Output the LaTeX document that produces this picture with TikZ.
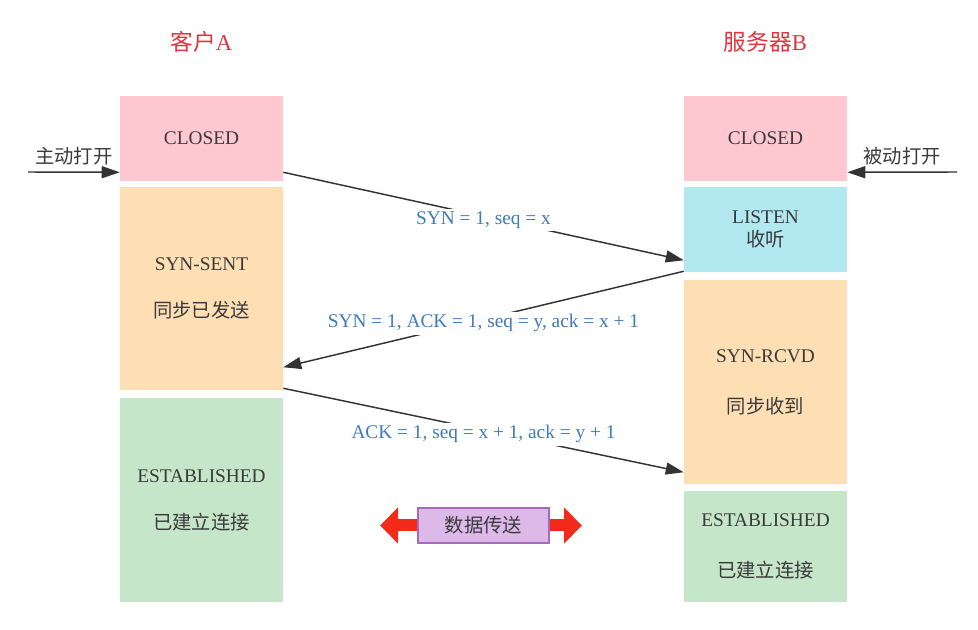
\documentclass[tikz,border=0pt]{standalone}
\usepackage{fontspec}
\setmainfont{Liberation Serif}
\newfontfamily\cjk{Noto Sans CJK SC}
\usetikzlibrary{arrows.meta}
\definecolor{closedpink}{HTML}{FFC8D1}
\definecolor{syncorange}{HTML}{FEDFB3}
\definecolor{listenblue}{HTML}{B2E8EF}
\definecolor{estgreen}{HTML}{C6E6CA}
\definecolor{datafill}{HTML}{DDB9E9}
\definecolor{dataline}{HTML}{A56BB8}
\definecolor{msgblue}{HTML}{3E7BBA}
\definecolor{titlered}{HTML}{E2333F}
\definecolor{stategray}{HTML}{3A3A3A}
\definecolor{lineblack}{HTML}{333333}
\definecolor{bigred}{HTML}{F42A1B}
\tikzset{
  statebox/.style={minimum width=122.25pt, inner sep=0pt, align=center, text=stategray, font=\fontsize{14.5pt}{17.4pt}\selectfont},
  msg/.style={draw=lineblack, line width=1.1pt, -{Triangle[length=13.5pt,width=9pt]}},
  msglabel/.style={midway, yshift=-3pt, fill=white, inner sep=2pt, text=msgblue, font=\fontsize{14.5pt}{17.4pt}\selectfont},
  openlabel/.style={midway, above=1pt, text=stategray, font=\fontsize{14.5pt}{17.4pt}\selectfont\cjk},
  sidetitle/.style={text=titlered, font=\fontsize{17pt}{20pt}\selectfont},
}
\begin{document}
\begin{tikzpicture}[x=0.75pt,y=-0.75pt]
\useasboundingbox (0,0) rectangle (978,630);
\node[sidetitle] (titleA) at (201.5,42) {{\cjk 客户}A};
\node[sidetitle] (titleB) at (765.5,42) {{\cjk 服务器}B};
\node[statebox, fill=closedpink, minimum height=63.75pt] (closedA) at (201.5,138.5) {CLOSED};
\node[statebox, fill=syncorange, minimum height=152.25pt] (synsent) at (201.5,288.5) {SYN-SENT\\[18pt]{\cjk 同步已发送}};
\node[statebox, fill=estgreen, minimum height=153pt] (estA) at (201.5,500) {ESTABLISHED\\[18pt]{\cjk 已建立连接}};
\node[statebox, fill=closedpink, minimum height=63.75pt] (closedB) at (765.5,138.5) {CLOSED};
\node[statebox, fill=listenblue, minimum height=63.75pt] (listen) at (765.5,229.5) {LISTEN\\{\cjk 收听}};
\node[statebox, fill=syncorange, minimum height=153pt] (synrcvd) at (765.5,382) {SYN-RCVD\\[21pt]{\cjk 同步收到}};
\node[statebox, fill=estgreen, minimum height=83.25pt] (estB) at (765.5,546.5) {ESTABLISHED\\[21pt]{\cjk 已建立连接}};
\coordinate (openA) at (28,172);
\coordinate (openB) at (957,172);
\draw[msg] (openA) -- ([yshift=6.75pt]closedA.south west) node[openlabel] {主动打开};
\draw[msg] (openB) -- ([yshift=6.75pt]closedB.south east) node[openlabel] {被动打开};
\draw[msg] ([yshift=6.75pt]closedA.south east) -- ([yshift=9pt]listen.south west) node[msglabel] {SYN = 1, seq = x};
\draw[msg] ([yshift=0.75pt]listen.south west) -- ([yshift=17.25pt]synsent.south east) node[msglabel] {SYN = 1, ACK = 1, seq = y, ack = x + 1};
\draw[msg] ([yshift=1.5pt]synsent.south east) -- ([yshift=9pt]synrcvd.south west) node[msglabel] {ACK = 1, seq = x + 1, ack = y + 1};
\coordinate (dataL) at (380,525.5);
\coordinate (dataR) at (582,525.5);
\draw[bigred, line width=9pt, {Triangle[length=13.5pt,width=26.25pt]}-{Triangle[length=13.5pt,width=26.25pt]}] (dataL) -- (dataR);
\node[fill=datafill, draw=dataline, line width=1.1pt, minimum width=98.25pt, minimum height=26.25pt, inner sep=0pt, text=stategray, font=\fontsize{14.5pt}{17.4pt}\selectfont\cjk] (data) at (483.5,525.5) {数据传送};
\end{tikzpicture}
\end{document}
